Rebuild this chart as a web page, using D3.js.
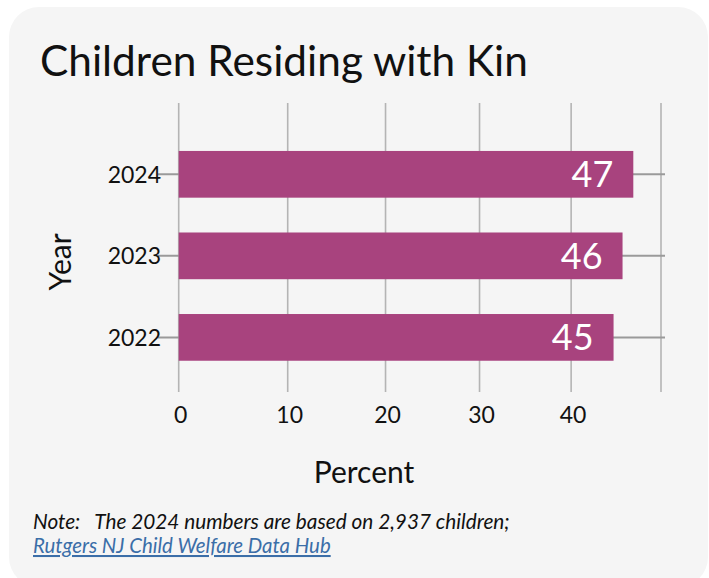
<!DOCTYPE html>
<html>
<head>
<meta charset="utf-8">
<script src="https://cdn.jsdelivr.net/npm/d3@7"></script>
<style>
  html, body { margin: 0; padding: 0; background: #ffffff; }
  svg { display: block; }
</style>
</head>
<body>
<div id="chart"></div>
<script>
// ---- data ----
const title = "Children Residing with Kin";
const years = ["2024", "2023", "2022"];
const values = [46.9, 45.7, 44.7];
const xTicks = [0, 10, 20, 30, 40];
const gridTicks = [0, 10, 20, 30, 40, 50];
const xLabel = "Percent";
const yLabel = "Year";
const noteText = "Note:\u00a0\u00a0 The 2024 numbers are based on 2,937 children;";
const sourceText = "Rutgers NJ Child Welfare Data Hub";

const W = 709, H = 578;
const FONT = "Lato, 'Open Sans', sans-serif";
const barColor = "#a8437e";

const svg = d3.select("#chart").append("svg").attr("width", W).attr("height", H);

// card
svg.append("rect").attr("x", 9).attr("y", 7).attr("width", 699).attr("height", 580)
  .attr("rx", 30).attr("fill", "#f5f5f5");

function fit(sel, size, target) {
  const w = sel.node().getComputedTextLength();
  sel.attr("font-size", size * target / w);
}

// title, fitted to width
const t = svg.append("text").attr("x", 40).attr("y", 76)
  .attr("font-family", FONT).attr("font-size", 44).attr("fill", "#111").text(title);
fit(t, 44, 488);

// scales
const x = d3.scalePow().exponent(0.924).domain([0, 50]).range([178.7, 661]);
const y = d3.scaleBand().domain(years).range([126.5, 385.2]).paddingInner(0.427).paddingOuter(0.3);

// vertical grid
svg.append("g").selectAll("line").data(gridTicks).join("line")
  .attr("x1", d => x(d)).attr("x2", d => x(d))
  .attr("y1", 103).attr("y2", 392)
  .attr("stroke", "#b4b4b4").attr("stroke-width", 1.6);

// horizontal category lines
svg.append("g").selectAll("line").data(years).join("line")
  .attr("x1", 158).attr("x2", 665)
  .attr("y1", d => y(d) + y.bandwidth() / 2).attr("y2", d => y(d) + y.bandwidth() / 2)
  .attr("stroke", "#9a9a9a").attr("stroke-width", 2);

// bars
svg.append("g").selectAll("rect").data(years).join("rect")
  .attr("x", x(0)).attr("y", d => y(d))
  .attr("width", (d, i) => x(values[i]) - x(0))
  .attr("height", y.bandwidth())
  .attr("fill", barColor);

// value labels
svg.append("g").selectAll("text").data(years).join("text")
  .attr("x", (d, i) => x(values[i]) - 20)
  .attr("y", d => y(d) + y.bandwidth() / 2)
  .attr("dy", "0.36em")
  .attr("text-anchor", "end")
  .attr("font-family", FONT).attr("font-size", 36).attr("fill", "#ffffff")
  .text((d, i) => d3.format(".0f")(values[i]));

// y tick labels
svg.append("g").selectAll("text").data(years).join("text")
  .attr("x", 161).attr("y", d => y(d) + y.bandwidth() / 2)
  .attr("dy", "0.36em").attr("text-anchor", "end")
  .attr("font-family", FONT).attr("font-size", 23).attr("fill", "#111")
  .text(d => d);

// x tick labels
svg.append("g").selectAll("text").data(xTicks).join("text")
  .attr("x", d => x(d) + 2).attr("y", 423)
  .attr("text-anchor", "middle")
  .attr("font-family", FONT).attr("font-size", 23).attr("fill", "#111")
  .text(d => d);

// axis titles
svg.append("text").attr("x", 364).attr("y", 483).attr("text-anchor", "middle")
  .attr("font-family", FONT).attr("font-size", 30).attr("fill", "#111").text(xLabel);
svg.append("text").attr("transform", "translate(71,262) rotate(-90)").attr("text-anchor", "middle")
  .attr("font-family", FONT).attr("font-size", 30).attr("fill", "#111").text(yLabel);

// note and source
const n = svg.append("text").attr("x", 33).attr("y", 529)
  .attr("font-family", FONT).attr("font-size", 19).attr("font-style", "italic").attr("fill", "#111")
  .text(noteText);
fit(n, 19, 477);
const s = svg.append("text").attr("x", 33).attr("y", 553)
  .attr("font-family", FONT).attr("font-size", 19).attr("font-style", "italic").attr("fill", "#3b6ea8")
  .attr("text-decoration", "underline")
  .text(sourceText);
fit(s, 19, 298);
</script>
</body>
</html>
